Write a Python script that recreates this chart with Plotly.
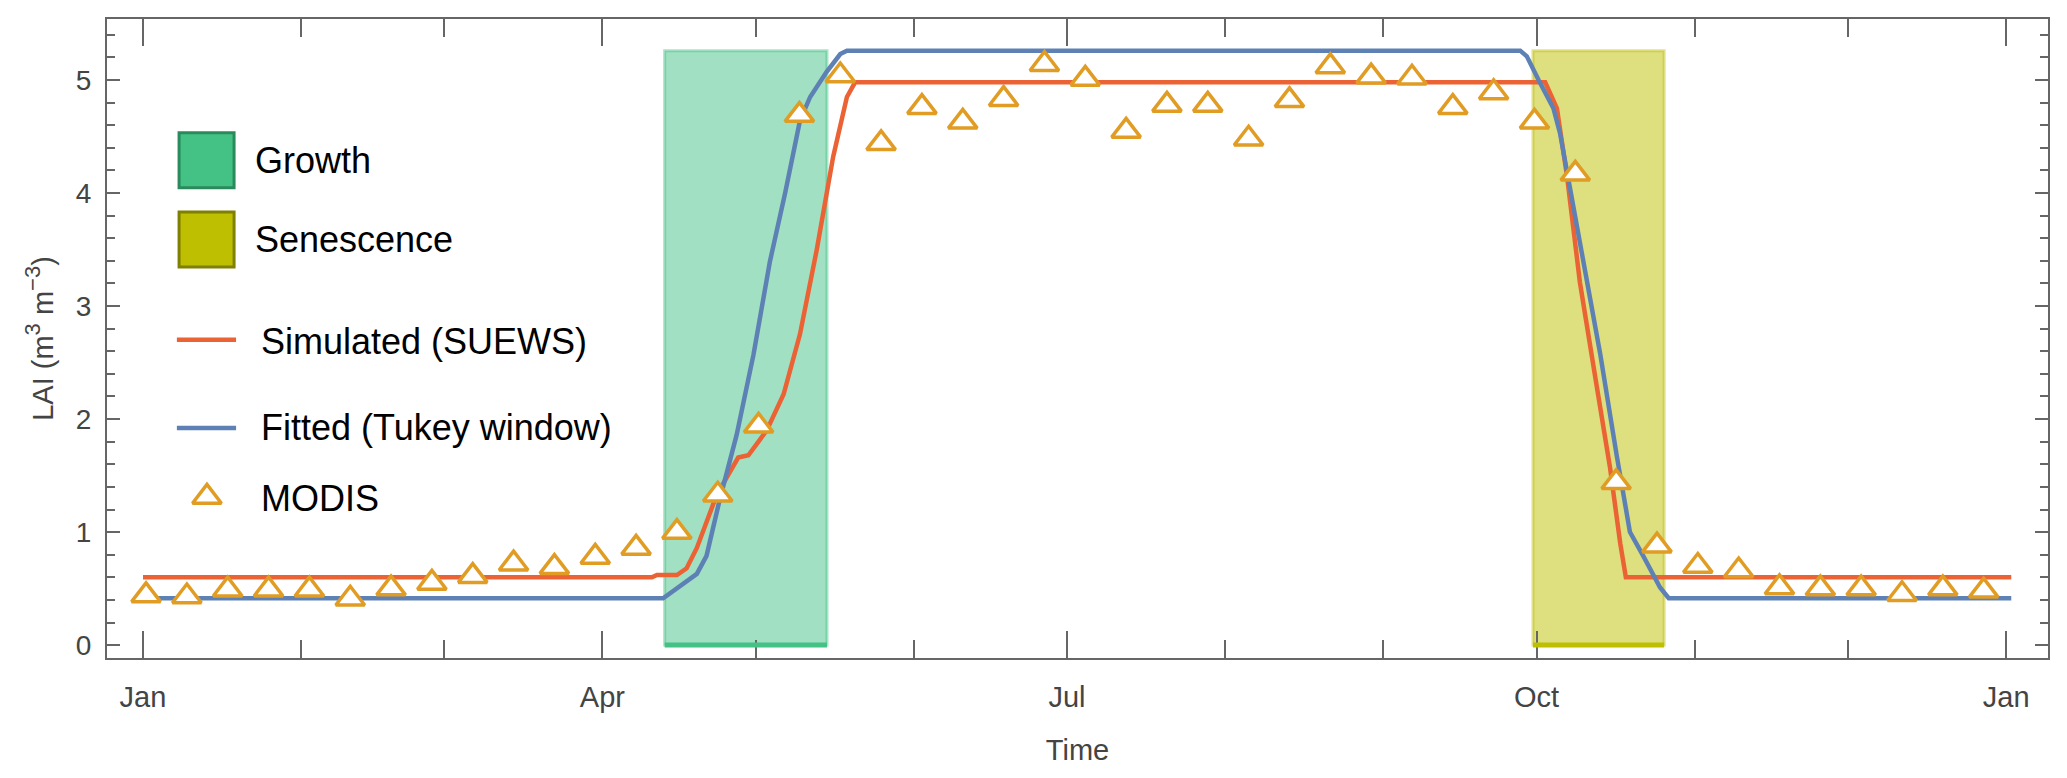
import plotly.graph_objects as go
import pandas as pd

base = pd.Timestamp("2015-01-01")

# day of year (0 = 1 Jan) and LAI values
sim_day = [0.0, 99.7, 100.7, 104.6, 106.5, 108.5, 112.4, 116.6, 118.6, 122.2, 125.5,
           128.7, 132.0, 135.2, 137.9, 139.5, 274.7, 277.0, 279.0, 281.5, 284.8,
           287.4, 289.4, 290.5, 366.0]
sim_lai = [0.60, 0.60, 0.62, 0.62, 0.68, 0.86, 1.33, 1.66, 1.68, 1.90, 2.22,
           2.75, 3.50, 4.32, 4.85, 4.98, 4.98, 4.75, 4.14, 3.21, 2.29,
           1.57, 0.90, 0.60, 0.60]

fit_day = [0.0, 101.9, 108.5, 110.4, 113.0, 116.3, 119.6, 122.8, 125.8, 128.7, 130.7,
           133.9, 136.6, 137.9, 269.8, 271.1, 273.4, 276.3, 277.6, 281.5, 285.5,
           288.7, 291.3, 293.9, 297.2, 298.9, 366.0]
fit_lai = [0.415, 0.415, 0.63, 0.79, 1.29, 1.86, 2.57, 3.39, 4.00, 4.64, 4.85,
           5.07, 5.23, 5.26, 5.26, 5.21, 5.00, 4.75, 4.53, 3.57, 2.57,
           1.68, 1.00, 0.79, 0.51, 0.415, 0.415]

modis_day = [0.6, 8.6, 16.6, 24.6, 32.6, 40.6, 48.6, 56.6, 64.6, 72.6, 80.6, 88.6,
             96.6, 104.6, 112.6, 120.6, 128.6, 136.6, 144.6, 152.6, 160.6, 168.6,
             176.6, 184.6, 192.6, 200.6, 208.6, 216.6, 224.6, 232.6, 240.6, 248.6,
             256.6, 264.6, 272.6, 280.6, 288.6, 296.6, 304.6, 312.6, 320.6, 328.6,
             336.6, 344.6, 352.6, 360.6]
modis_lai = [0.44, 0.43, 0.49, 0.49, 0.49, 0.41, 0.50, 0.55, 0.61, 0.72, 0.69, 0.78,
             0.86, 1.00, 1.33, 1.94, 4.69, 5.04, 4.44, 4.76, 4.63, 4.83,
             5.14, 5.01, 4.55, 4.78, 4.78, 4.48, 4.82, 5.12, 5.03, 5.02,
             4.76, 4.89, 4.63, 4.17, 1.44, 0.88, 0.70, 0.66, 0.51, 0.50,
             0.50, 0.45, 0.50, 0.48]

phase_names = ["Growth", "Senescence"]
phase_start = [102.2, 272.3]
phase_end = [134.0, 298.0]
phase_rgb = ["68,194,133", "189,191,0"]
phase_edge = ["#2a8a5c", "#7f8000"]


def to_date(days):
    return base + pd.to_timedelta(pd.Series(days), unit="D")


RED = "#EB6235"
BLUE = "#5E81B5"
ORANGE = "#E19C24"
GREY = "#666666"
FONT = "Liberation Sans"
TRI = dict(symbol="triangle-up", size=25, color="white", line=dict(color=ORANGE, width=3.5))

fig = go.Figure()

# phase windows
top = max(fit_lai)
for i, name in enumerate(phase_names):
    x0, x1 = to_date([phase_start[i], phase_end[i]])
    fig.add_shape(type="rect", xref="x", yref="y", x0=x0, x1=x1, y0=0, y1=top,
                  fillcolor="rgba(%s,0.5)" % phase_rgb[i],
                  line=dict(color="rgba(%s,0.45)" % phase_rgb[i], width=3),
                  layer="below")
    fig.add_shape(type="line", xref="x", yref="y", x0=x0, x1=x1, y0=0, y1=0,
                  line=dict(color="rgb(%s)" % phase_rgb[i], width=5))

fig.add_trace(go.Scatter(x=to_date(sim_day), y=sim_lai, mode="lines",
                         line=dict(color=RED, width=4.5), name="Simulated (SUEWS)"))
fig.add_trace(go.Scatter(x=to_date(fit_day), y=fit_lai, mode="lines",
                         line=dict(color=BLUE, width=4.5), name="Fitted (Tukey window)"))
fig.add_trace(go.Scatter(x=to_date(modis_day), y=modis_lai, mode="markers",
                         marker=TRI, name="MODIS"))

# hand-drawn legend on an overlay axis (0..1 over the plot area)
leg = dict(xaxis="x2", yaxis="y2", showlegend=False, hoverinfo="skip")
for i, yy in enumerate([0.779, 0.655]):
    fig.add_trace(go.Scatter(x=[0.0513], y=[yy], mode="markers",
                             marker=dict(symbol="square", size=55,
                                         color="rgb(%s)" % phase_rgb[i],
                                         line=dict(color=phase_edge[i], width=3)), **leg))
fig.add_trace(go.Scatter(x=[0.036, 0.0665], y=[0.498, 0.498], mode="lines",
                         line=dict(color=RED, width=4.5), **leg))
fig.add_trace(go.Scatter(x=[0.036, 0.0665], y=[0.360, 0.360], mode="lines",
                         line=dict(color=BLUE, width=4.5), **leg))
fig.add_trace(go.Scatter(x=[0.0515], y=[0.252], mode="markers", marker=TRI, **leg))

labels = ["Growth", "Senescence", "Simulated (SUEWS)", "Fitted (Tukey window)", "MODIS"]
lab_x = [0.0752, 0.0752, 0.0783, 0.0783, 0.0783]
lab_y = [0.779, 0.655, 0.496, 0.360, 0.250]
for t, lx, ly in zip(labels, lab_x, lab_y):
    fig.add_annotation(text=t, x=lx, y=ly, xref="paper", yref="paper",
                       xanchor="left", yanchor="middle", showarrow=False,
                       font=dict(family=FONT, size=36, color="black"))

axis_common = dict(showline=True, linecolor=GREY, linewidth=2, mirror="ticks",
                   ticks="inside", tickcolor=GREY, tickwidth=2,
                   showgrid=False, zeroline=False)

sup = "<sup><span style='font-size:22px'>%s</span></sup>"

# the page body has an 8px margin, so the figure is sized/offset to compensate
fig.update_layout(
    width=2051, height=762,
    margin=dict(l=99, r=11, t=9, b=106),
    paper_bgcolor="white", plot_bgcolor="white",
    showlegend=False,
    xaxis=dict(
        type="date",
        range=to_date([-7.05, 373.2]).tolist(),
        tick0=base, dtick="M3", tickformat="%b", ticklen=27,
        ticklabelstandoff=12,
        tickfont=dict(family=FONT, size=29, color="#444444"),
        minor=dict(dtick="M1", tick0=base, ticks="inside", ticklen=18,
                   tickcolor=GREY, tickwidth=2),
        title=dict(text="Time", font=dict(family=FONT, size=29, color="#444444"),
                   standoff=28),
        **axis_common),
    yaxis=dict(
        range=[-0.114, 5.54], tick0=0, dtick=1, ticklen=13,
        ticklabelstandoff=8,
        tickfont=dict(family=FONT, size=28, color="#444444"),
        minor=dict(dtick=0.2, tick0=0, ticks="inside", ticklen=8,
                   tickcolor=GREY, tickwidth=2),
        title=dict(text="LAI (m" + sup % "3" + " m" + sup % "\u22123" + ")",
                   font=dict(family=FONT, size=29, color="#444444"), standoff=14),
        **axis_common),
    xaxis2=dict(overlaying="x", range=[0, 1], visible=False, fixedrange=True),
    yaxis2=dict(overlaying="y", range=[0, 1], visible=False, fixedrange=True),
)

fig.write_html("out.html")
